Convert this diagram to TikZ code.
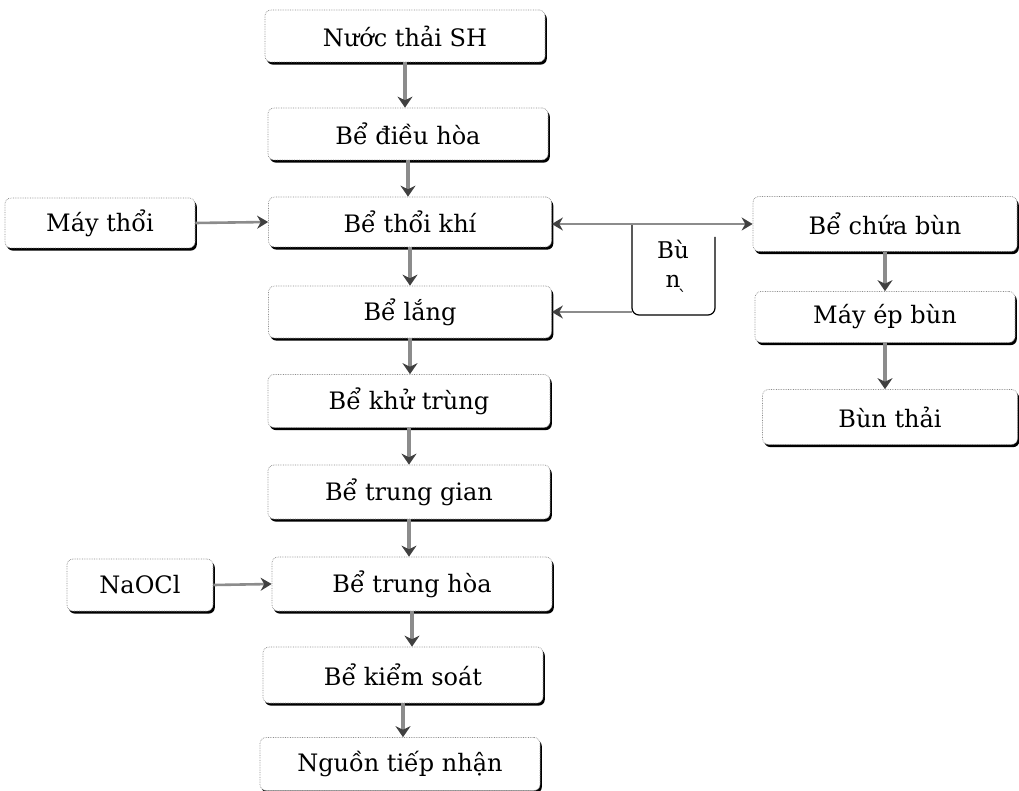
\documentclass[tikz,border=0pt]{standalone}
\usepackage{fontspec}
\setmainfont{DejaVu Serif}
\usetikzlibrary{arrows.meta,shadows}
\begin{document}
\begin{tikzpicture}[x=1pt,y=-1pt,
  box/.style={draw=black!45, densely dotted, line width=0.7pt, rounded corners=6pt, fill=white,
    drop shadow={shadow xshift=1.8pt, shadow yshift=-2.6pt, fill=black, opacity=1},
    inner sep=0pt, font=\fontsize{24}{28}\selectfont},
  arr/.style={draw=black!45, line width=3.6pt, -{Stealth[length=11pt,width=15pt,color=black!75]}},
  arrh/.style={draw=black!45, line width=2.6pt, -{Stealth[length=11pt,width=13pt,color=black!75]}},
  bunline/.style={draw=black, line width=1.2pt}]
\useasboundingbox (0,0) rectangle (1019,791);
\fill[white] (0,0) rectangle (1019,791);
% main column
\node[box, minimum width=280pt, minimum height=52pt] (n1) at (405,36) {Nước thải SH};
\node[box, minimum width=280pt, minimum height=52pt] (n2) at (408,134) {Bể điều hòa};
\node[box, minimum width=283pt, minimum height=50pt] (n3) at (410,222) {Bể thổi khí};
\node[box, minimum width=190pt, minimum height=50pt] (m) at (100,223) {Máy thổi};
\node[box, minimum width=283pt, minimum height=52pt] (n4) at (410,312) {Bể lắng};
\node[box, minimum width=282pt, minimum height=53pt] (n5) at (409,401) {Bể khử trùng};
\node[box, minimum width=282pt, minimum height=54pt] (n6) at (409,492) {Bể trung gian};
\node[box, minimum width=280pt, minimum height=54pt] (n7) at (412,584) {Bể trung hòa};
\node[box, minimum width=146pt, minimum height=52pt] (na) at (140,585) {NaOCl};
\node[box, minimum width=280pt, minimum height=56pt] (n8) at (403,675) {Bể kiểm soát};
\node[box, minimum width=280pt, minimum height=53pt] (n9) at (400,764) {Nguồn tiếp nhận};
% right column
\node[box, minimum width=264pt, minimum height=55pt] (r1) at (885,224) {Bể chứa bùn};
\node[box, minimum width=260pt, minimum height=51pt] (r2) at (885,317) {Máy ép bùn};
\node[box, minimum width=255pt, minimum height=55pt] (r3) at (890,417) {Bùn thải};
% Bun box
\draw[bunline, rounded corners=7pt] (632,224) -- (632,315) -- (715,315) -- (715,237);
\node[font=\fontsize{23}{29}\selectfont, align=center, inner sep=0pt] (bun) at (673,264) {Bù\\n};
\node[font=\fontsize{18}{18}\selectfont, inner sep=0pt] (acc) at (684,296) {\`{}};
\coordinate (bt) at (632,224);
\coordinate (bl) at (632,312);
% arrows
\draw[arr] (n1.south) -- (n1.south |- n2.north);
\draw[arr] (n2.south) -- (n2.south |- n3.north);
\draw[arr] (n3.south) -- (n3.south |- n4.north);
\draw[arr] (n4.south) -- (n4.south |- n5.north);
\draw[arr] (n5.south) -- (n5.south |- n6.north);
\draw[arr] (n6.south) -- (n6.south |- n7.north);
\draw[arr] (n7.south) -- (n7.south |- n8.north);
\draw[arr] (n8.south) -- (n8.south |- n9.north);
\draw[arr] (r1.south) -- (r1.south |- r2.north);
\draw[arr] (r2.south) -- (r2.south |- r3.north);
\draw[arrh] (m.east) -- (n3.west);
\draw[arrh] (na.east) -- (n7.west);
\draw[arrh] (bt) -- (r1.west |- bt);
\draw[arrh] (bt) -- (n3.east |- bt);
\draw[arrh] (bl) -- (n4.east |- bl);
\end{tikzpicture}
\end{document}
